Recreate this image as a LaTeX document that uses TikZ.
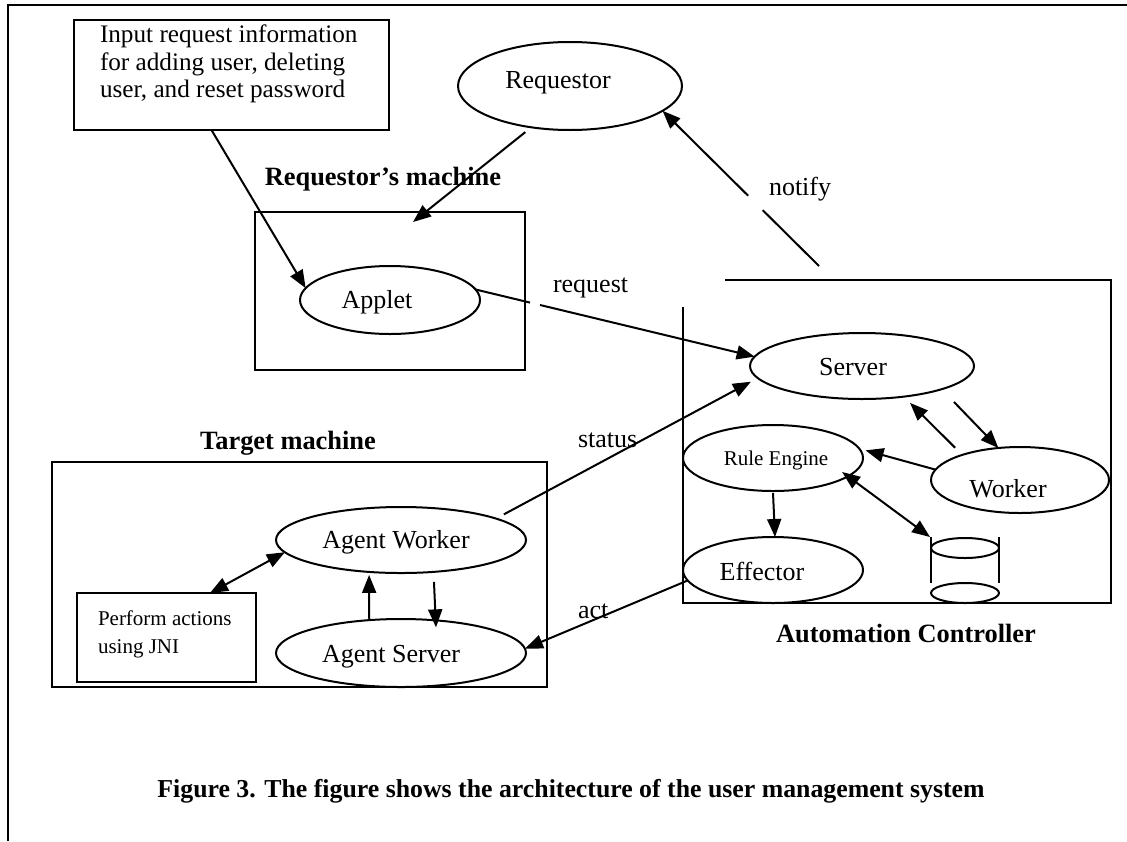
\documentclass[tikz,border=0pt]{standalone}
\usepackage{fontspec}
\setmainfont{Liberation Serif}
\usetikzlibrary{arrows.meta,calc,shapes.geometric}

\begin{document}
\begin{tikzpicture}[x=0.5pt,y=-0.5pt,
  line width=1pt,
  every node/.style={inner sep=0pt, outer sep=0pt},
  oval/.style={draw, ellipse, line width=1pt},
  boxed/.style={draw, rectangle, line width=1pt},
  txt/.style={anchor=base, font=\fontsize{13pt}{15pt}\selectfont},
  small/.style={anchor=base, font=\fontsize{10.5pt}{14pt}\selectfont},
  heading/.style={anchor=base, font=\fontsize{13.2pt}{15pt}\selectfont\bfseries},
  captionstyle/.style={anchor=base, font=\fontsize{12.9pt}{15pt}\selectfont\bfseries},
  tip/.tip={Triangle[length=9pt,width=7pt]},
  arr/.style={-tip},
  twoway/.style={tip-tip},
]
\useasboundingbox (0,0) rectangle (1127,841);

% page frame (top and left edges only)
\draw[line width=1.2pt] (1127,5) -- (8,5) -- (8,841);

% ---------- requestor side ----------
\node[boxed, minimum width=157.5pt, minimum height=55pt] (inbox) at (231.5,75) {};
\node[anchor=north west, align=left, font=\fontsize{12.6pt}{13.7pt}\selectfont]
  (intext) at (100,25) {Input request information\\for adding user, deleting\\user, and reset password};

\node[oval, minimum width=112pt, minimum height=44pt] (req) at (570,86) {};
\node[txt] (reqtext) at (558,88) {Requestor};

\node[heading] (rmlabel) at (383,185) {Requestor’s machine};
\node[boxed, minimum width=135pt, minimum height=79pt] (rmbox) at (390,291) {};
\node[oval, minimum width=90pt, minimum height=34pt] (applet) at (390,300) {};
\node[txt] (applettext) at (377,308) {Applet};

% ---------- automation controller ----------
\draw (725,280) -- (1111,280) -- (1111,603) -- (683,603) -- (683,307);
\node[heading] (aclabel) at (906,642) {Automation Controller};

\node[oval, minimum width=112pt, minimum height=33pt] (server) at (862,366) {};
\node[txt] (servertext) at (853,375) {Server};
\node[oval, minimum width=89pt, minimum height=33pt] (worker) at (1020,480) {};
\node[txt] (workertext) at (1008,497) {Worker};
\node[oval, minimum width=90pt, minimum height=33pt] (rule) at (773,458) {};
\node[small] (ruletext) at (776,465) {Rule Engine};
\node[oval, minimum width=90pt, minimum height=33pt] (effector) at (773,570) {};
\node[txt] (efftext) at (762,580) {Effector};

% data store
\node[oval, minimum width=34pt, minimum height=10pt] (dbtop) at (965,548) {};
\node[oval, minimum width=34pt, minimum height=10pt] (dbbot) at (965,593) {};
\draw ($(dbtop.west)+(0,-11)$) -- ($(dbbot.west)+(0,-10)$);
\draw ($(dbtop.east)+(0,-11)$) -- ($(dbbot.east)+(0,-10)$);

% ---------- target machine ----------
\node[heading] (tmlabel) at (288,449) {Target machine};
\node[boxed, minimum width=247.5pt, minimum height=112.5pt] (tbox) at (299.5,574.5) {};
\node[oval, minimum width=125pt, minimum height=33pt] (aworker) at (401,540) {};
\node[txt] (awtext) at (396,548) {Agent Worker};
\node[oval, minimum width=125pt, minimum height=34pt] (aserver) at (401,653) {};
\node[txt] (astext) at (391,662) {Agent Server};
\node[boxed, minimum width=89.5pt, minimum height=44.5pt] (perf) at (166.5,637.5) {};
\node[anchor=north west, align=left, font=\fontsize{10.5pt}{14pt}\selectfont]
  (perftext) at (98,611) {Perform actions\\using JNI};

% ---------- connector labels ----------
\node[txt, anchor=base west] (notifylabel) at (769,195) {notify};
\node[txt, anchor=base west] (requestlabel) at (553,292) {request};
\node[txt, anchor=base west] (statuslabel) at (578,447) {status};
\node[txt, anchor=base west] (actlabel) at (578,618) {act};

% ---------- connectors ----------
\draw[arr] (inbox.-110.4) -- (applet.172);
\draw[arr] ($(req.-134)+(-5,5)$) -- ($(rmbox.north)+(23,10)$);

\draw (applet.7) -- ($(applet.7)!0.195!(server.175)$);
\draw[arr] ($(applet.7)!0.231!(server.175)$) -- (server.175);

\coordinate (notifyfoot) at (819,266);
\draw (notifyfoot) -- ($(notifyfoot)!0.36!(req.-15)$);
\draw[arr] ($(notifyfoot)!0.453!(req.-15)$) -- (req.-15);

\draw[arr] ($(aworker.14)+(12,-3)$) -- ($(server.188)+(-10,1.5)$);
\draw[arr] (effector.187) -- (aserver.2);

\draw[arr] ($(worker.north west)+(-2,-9)$) -- ($(server.-38)+(8.5,6)$);
\draw[arr] ($(server.-20)+(21.5,10.3)$) -- (worker.124.5);
\draw[arr] (worker.173.5) -- ($(rule.5)+(5,0)$);
\draw[arr] ($(rule.south)+(0,2)$) -- ($(effector.north)+(2,0)$);
\draw[twoway] ($(rule.-15)+(-3.6,-5.5)$) -- ($(dbtop.west)+(-1,-11)$);

\draw[twoway] (aworker.186) -- ($(perf.north)+(43.5,0)$);
\draw[arr] (aserver.134) -- ($(aworker.-135)+(0,3)$);
\draw[arr] ($(aworker.-44)+(0,10)$) -- ($(aserver.43)+(0,7)$);

% ---------- caption ----------
\node[captionstyle] (caption) at (571,797) {Figure 3. The figure shows the architecture of the user management system};
\end{tikzpicture}
\end{document}
